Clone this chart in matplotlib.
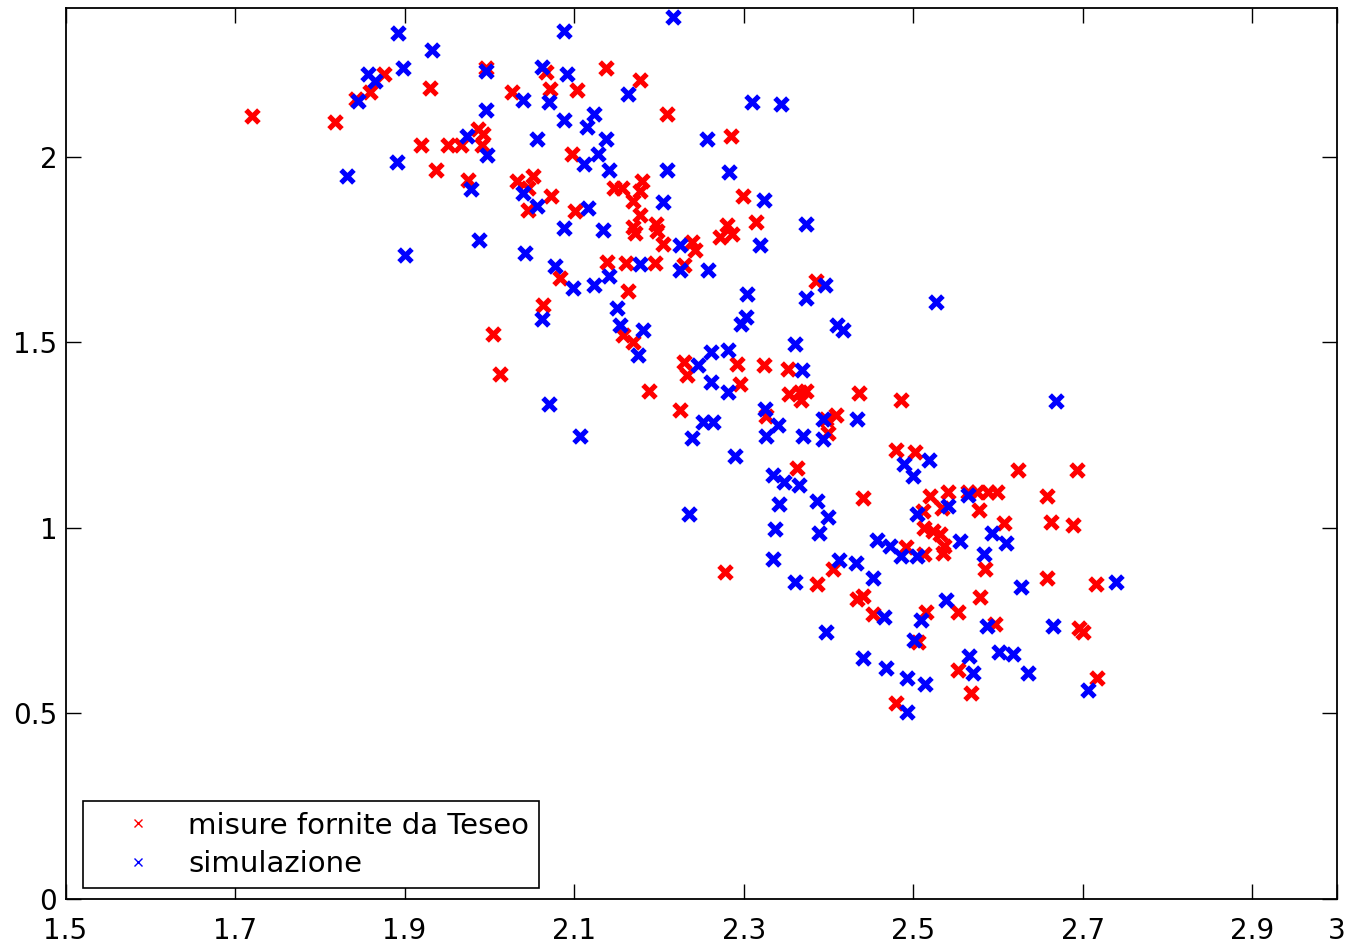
import matplotlib
matplotlib.use("Agg")
import matplotlib.pyplot as plt
from matplotlib.lines import Line2D

# misure fornite da Teseo (red)
teseo_x = [1.720, 1.818, 1.843, 1.859, 1.876, 1.930, 1.919, 1.951, 1.966, 1.937,
           1.975, 1.986, 1.993, 1.991, 1.996, 2.027, 2.033, 2.052, 2.045, 2.045,
           2.067, 2.071, 2.103, 2.137, 2.178, 2.210, 2.285, 2.098, 2.073, 2.101,
           2.147, 2.157, 2.180, 2.178, 2.170, 2.299, 2.178, 2.170, 2.172, 2.197,
           2.198, 2.280, 2.272, 2.286, 2.314, 2.205, 2.239, 2.242, 2.083, 2.139,
           2.161, 2.195, 2.229, 2.164, 2.063, 2.158, 2.170, 2.004, 2.013, 2.188,
           2.225, 2.229, 2.233, 2.292, 2.296, 2.324, 2.352, 2.385, 2.326, 2.353,
           2.366, 2.374, 2.368, 2.436, 2.485, 2.397, 2.409, 2.400, 2.363, 2.278,
           2.480, 2.502, 2.624, 2.693, 2.441, 2.520, 2.541, 2.565, 2.575, 2.588,
           2.599, 2.658, 2.512, 2.534, 2.578, 2.513, 2.523, 2.531, 2.536, 2.535,
           2.607, 2.662, 2.689, 2.492, 2.513, 2.585, 2.405, 2.658, 2.387, 2.716,
           2.579, 2.434, 2.441, 2.452, 2.553, 2.515, 2.597, 2.695, 2.700, 2.506,
           2.553, 2.717, 2.568, 2.480]
teseo_y = [2.110, 2.094, 2.155, 2.174, 2.222, 2.185, 2.030, 2.030, 2.030, 1.965,
           1.936, 2.075, 2.062, 2.030, 2.238, 2.174, 1.933, 1.947, 1.915, 1.856,
           2.227, 2.182, 2.179, 2.238, 2.206, 2.115, 2.056, 2.008, 1.893, 1.853,
           1.915, 1.915, 1.933, 1.907, 1.880, 1.893, 1.842, 1.810, 1.794, 1.818,
           1.800, 1.816, 1.784, 1.792, 1.824, 1.765, 1.770, 1.749, 1.674, 1.717,
           1.714, 1.714, 1.709, 1.639, 1.599, 1.519, 1.500, 1.521, 1.415, 1.369,
           1.318, 1.447, 1.412, 1.441, 1.388, 1.439, 1.428, 1.666, 1.300, 1.361,
           1.366, 1.369, 1.345, 1.364, 1.345, 1.294, 1.305, 1.254, 1.161, 0.880,
           1.209, 1.203, 1.155, 1.155, 1.080, 1.086, 1.096, 1.096, 1.096, 1.096,
           1.096, 1.086, 1.046, 1.054, 1.048, 1.000, 0.992, 0.984, 0.952, 0.931,
           1.013, 1.016, 1.008, 0.947, 0.928, 0.888, 0.888, 0.866, 0.848, 0.848,
           0.813, 0.808, 0.816, 0.767, 0.773, 0.773, 0.741, 0.730, 0.719, 0.693,
           0.618, 0.596, 0.556, 0.529]

# simulazione (blue)
sim_x = [1.892, 1.932, 1.857, 1.865, 1.898, 1.996, 1.845, 2.040, 1.996, 2.062,
         2.070, 2.056, 1.974, 1.997, 1.891, 1.832, 1.978, 2.040, 2.056, 1.988,
         1.900, 2.042, 2.088, 2.217, 2.091, 2.164, 2.088, 2.123, 2.115, 2.310,
         2.344, 2.137, 2.257, 2.128, 2.112, 2.141, 2.210, 2.283, 2.324, 2.205,
         2.116, 2.088, 2.134, 2.374, 2.225, 2.319, 2.077, 2.178, 2.225, 2.258,
         2.099, 2.123, 2.141, 2.151, 2.154, 2.181, 2.175, 2.304, 2.062, 2.070,
         2.107, 2.396, 2.374, 2.527, 2.410, 2.417, 2.361, 2.297, 2.303, 2.261,
         2.282, 2.246, 2.369, 2.261, 2.282, 2.252, 2.264, 2.239, 2.325, 2.341,
         2.326, 2.370, 2.393, 2.393, 2.434, 2.290, 2.668, 2.519, 2.489, 2.500,
         2.334, 2.347, 2.365, 2.342, 2.236, 2.337, 2.334, 2.386, 2.400, 2.389,
         2.565, 2.505, 2.541, 2.593, 2.610, 2.555, 2.457, 2.473, 2.485, 2.504,
         2.583, 2.412, 2.432, 2.453, 2.361, 2.739, 2.627, 2.466, 2.539, 2.509,
         2.587, 2.665, 2.397, 2.501, 2.441, 2.601, 2.618, 2.566, 2.468, 2.570,
         2.635, 2.706, 2.493, 2.514, 2.493]
sim_y = [2.334, 2.286, 2.222, 2.203, 2.238, 2.230, 2.150, 2.153, 2.126, 2.241,
         2.147, 2.048, 2.056, 2.003, 1.984, 1.947, 1.912, 1.901, 1.866, 1.776,
         1.735, 1.741, 2.337, 2.377, 2.222, 2.169, 2.099, 2.115, 2.080, 2.147,
         2.142, 2.048, 2.046, 2.006, 1.979, 1.965, 1.963, 1.957, 1.883, 1.877,
         1.861, 1.808, 1.802, 1.818, 1.762, 1.762, 1.706, 1.711, 1.695, 1.695,
         1.645, 1.655, 1.677, 1.591, 1.546, 1.532, 1.465, 1.631, 1.562, 1.334,
         1.246, 1.655, 1.620, 1.607, 1.546, 1.532, 1.495, 1.548, 1.567, 1.473,
         1.479, 1.439, 1.425, 1.393, 1.366, 1.284, 1.284, 1.241, 1.321, 1.278,
         1.246, 1.246, 1.292, 1.238, 1.292, 1.193, 1.342, 1.182, 1.171, 1.139,
         1.142, 1.123, 1.115, 1.064, 1.037, 0.997, 0.917, 1.072, 1.029, 0.987,
         1.088, 1.037, 1.059, 0.987, 0.960, 0.963, 0.968, 0.952, 0.925, 0.925,
         0.928, 0.912, 0.906, 0.866, 0.853, 0.853, 0.840, 0.759, 0.805, 0.751,
         0.735, 0.735, 0.719, 0.698, 0.650, 0.666, 0.660, 0.655, 0.623, 0.610,
         0.610, 0.564, 0.596, 0.578, 0.503]

labels = ["misure fornite da Teseo", "simulazione"]
x_ticks = [1.5, 1.7, 1.9, 2.1, 2.3, 2.5, 2.7, 2.9, 3.0]
x_tick_labels = ["1.5", "1.7", "1.9", "2.1", "2.3", "2.5", "2.7", "2.9", "3"]
y_ticks = [0, 0.5, 1, 1.5, 2]
y_tick_labels = ["0", "0.5", "1", "1.5", "2"]

plt.rcParams['font.family'] = ['DejaVu Sans']

fig = plt.figure(figsize=(13.51, 9.46), dpi=100)
ax = fig.add_axes([0.0485, 0.0497, 0.9412, 0.9418])

ax.scatter(teseo_x, teseo_y, marker='x', s=85, linewidths=3.7, color='#ff0000', zorder=3)
ax.scatter(sim_x, sim_y, marker='x', s=85, linewidths=3.7, color='#0000ff', zorder=3)

ax.set_xlim(1.5, 3.0)
ax.set_ylim(0, 2.4)
ax.set_xticks(x_ticks)
ax.set_xticklabels(x_tick_labels)
ax.set_yticks(y_ticks)
ax.set_yticklabels(y_tick_labels)
ax.tick_params(direction='in', length=10.5, width=1, labelsize=20,
               top=True, right=True, pad=6)
ax.tick_params(axis='x', pad=13)
for s in ax.spines.values():
    s.set_linewidth(1.3)

handles = [
    Line2D([], [], linestyle='none', marker='x', markersize=6, markeredgewidth=1,
           color='#ff0000'),
    Line2D([], [], linestyle='none', marker='x', markersize=6, markeredgewidth=1,
           color='#0000ff'),
]
leg = ax.legend(handles, labels, loc='lower left', bbox_to_anchor=(0.0138, 0.0122),
                borderaxespad=0, fontsize=21, fancybox=False, framealpha=1,
                edgecolor='black', handlelength=3.1, handletextpad=0.15,
                borderpad=0.35, labelspacing=0.35)
leg.get_frame().set_linewidth(1.2)

fig.savefig("out.png", dpi=100, facecolor='white')
